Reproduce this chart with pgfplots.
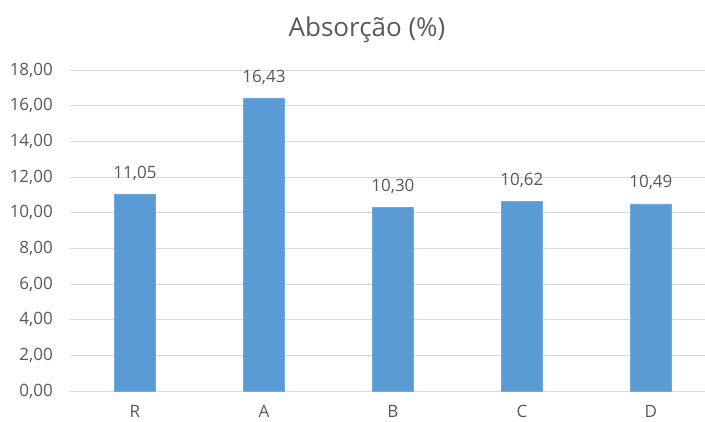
\documentclass[border=0pt]{standalone}
\usepackage{pgfplots}
\pgfplotsset{compat=1.18}
\usepackage{fontspec}
\setmainfont{Open Sans}
\definecolor{barblue}{HTML}{5B9BD5}
\definecolor{txt}{HTML}{595959}
\definecolor{gridgray}{HTML}{D9D9D9}
\begin{document}
\begin{tikzpicture}[x=1pt,y=1pt]
\useasboundingbox (0,0) rectangle (705,421);
\begin{axis}[
  at={(70.5pt,30pt)}, anchor=south west,
  scale only axis, width=634.5pt, height=321pt,
  xmin=-0.5, xmax=4.42, ymin=0, ymax=18,
  xtick={0,1,2,3,4}, xticklabels={R,A,B,C,D},
  ytick={0,2,...,18},
  ymajorgrids, xmajorgrids=false,
  y grid style={draw=gridgray, line width=1pt},
  axis line style={draw=none},
  major tick length=0pt,
  clip=false,
  tick label style={font=\fontsize{17}{20}\selectfont, text=txt},
  xticklabel style={anchor=center, yshift=-20pt},
  yticklabel style={anchor=east, inner sep=0pt, xshift=-17.5pt},
  /pgf/number format/.cd, assume math mode=true, fixed, fixed zerofill, precision=2, use comma,
]
\addplot[ybar, bar width=41pt, fill=barblue, draw=barblue!85!white,
  nodes near coords,
  nodes near coords style={font=\fontsize{17}{20}\selectfont, text=txt, anchor=center, yshift=21pt,
    /pgf/number format/.cd, assume math mode=true, fixed, fixed zerofill, precision=2, use comma}]
  coordinates {(0,11.05) (1,16.43) (2,10.30) (3,10.62) (4,10.49)};
\end{axis}
\node[text=txt, font=\fontsize{26}{30}\selectfont] at (367,391) {Absorção (\%)};
\end{tikzpicture}
\end{document}
